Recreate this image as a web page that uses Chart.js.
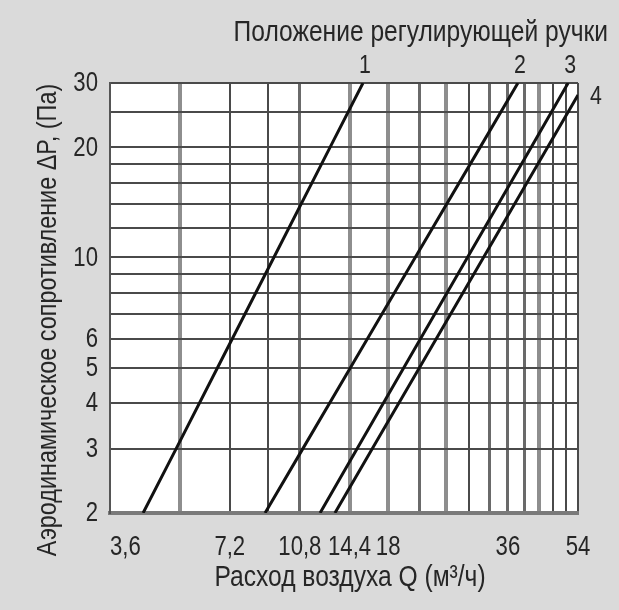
<!DOCTYPE html>
<html><head><meta charset="utf-8">
<script src="https://cdn.jsdelivr.net/npm/chart.js@4.4.1/dist/chart.umd.min.js"></script>
<style>
html,body{margin:0;padding:0;background:#dadada;}
#wrap{position:relative;width:619px;height:610px;}
</style></head><body>
<div id="wrap"><canvas id="c"></canvas></div>
<script>
// ---- data ----
const pressureLevels = [2, 3, 5, 10, 20, 30];            // ΔP, Па
const flowPos1 = [4.36, 5.28, 6.71, 9.29, 12.86, 15.56];  // Q, м³/ч
const flowPos2 = [8.83, 10.99, 14.48, 21.05, 30.64, 38.14];
const flowPos3 = [12.14, 15.05, 19.72, 28.48, 41.16, 51.0];
const flowPos4 = [13.23, 16.43, 21.59, 31.25, 45.25, 54];
const pressurePos4 = [2, 3, 5, 10, 20, 27.8];
const seriesLabels = ['1', '2', '3', '4'];
const xGridValues = [3.6, 5.4, 7.2, 9, 10.8, 14.4, 18, 21.6, 25.2, 28.8, 32.4, 36, 39.6, 43.2, 46.8, 50.4, 54];
const xTickLabels = [3.6, 7.2, 10.8, 14.4, 18, 36, 54];
const yGridValues = [2, 3, 4, 5, 6, 7, 8, 9, 10, 12, 14, 16, 18, 20, 25, 30];
const yTickLabels = [2, 3, 4, 5, 6, 10, 20, 30];
const chartTitle = 'Положение регулирующей ручки';
const xTitle = 'Расход воздуха Q (м³/ч)';
const yTitle = 'Аэродинамическое сопротивление ΔP, (Па)';

// ---- styling ----
const FONT = "'Liberation Sans', Arial, sans-serif";
const NARROW = 0.82;   // condensed face emulation
const TEXT = '#262626';
function xGridStyle(v) {
  const light = [5.4, 14.4, 18, 25.2, 43.2];
  const mid = [10.8, 21.6, 32.4, 36, 39.6];
  if (light.some(t => Math.abs(t - v) < 1e-6)) return ['#8e8e8e', 4];
  if (mid.some(t => Math.abs(t - v) < 1e-6)) return ['#6a6a6a', 3];
  return ['#4a4a4a', 2];
}
const fmtNum = v => String(v).replace('.', ',');
const toPts = (xs, ys) => xs.map((x, i) => ({x: x, y: ys[i]}));

function narrowText(ctx, text, x, y, size, align, rot) {
  ctx.save();
  ctx.translate(x, y);
  if (rot) ctx.rotate(rot);
  ctx.scale(NARROW, 1);
  ctx.font = size + 'px ' + FONT;
  ctx.textAlign = align;
  ctx.textBaseline = 'middle';
  ctx.fillStyle = TEXT;
  ctx.fillText(text, 0, 0);
  ctx.restore();
}

const datasets = [
  toPts(flowPos1, pressureLevels),
  toPts(flowPos2, pressureLevels),
  toPts(flowPos3, pressureLevels),
  toPts(flowPos4, pressurePos4)
].map((d, i) => ({
  label: seriesLabels[i], data: d, showLine: true, borderColor: '#111', borderWidth: 3,
  pointRadius: 0, fill: false, tension: 0
}));

const bgPlugin = {
  id: 'bg',
  beforeDraw(chart) {
    const {ctx, chartArea: a} = chart;
    ctx.save();
    ctx.fillStyle = '#dadada';
    ctx.fillRect(0, 0, chart.width, chart.height);
    ctx.fillStyle = '#ffffff';
    ctx.fillRect(a.left, a.top, a.right - a.left, a.bottom - a.top);
    ctx.restore();
  }
};

const textPlugin = {
  id: 'texts',
  afterDraw(chart) {
    const {ctx, chartArea: a} = chart;
    const sx = chart.scales.x, sy = chart.scales.y;
    // heading
    narrowText(ctx, chartTitle, chart.width - 11, 33, 30, 'right');
    // tick labels
    xTickLabels.forEach((v, i) => {
      const px = sx.getPixelForValue(v);
      narrowText(ctx, fmtNum(v), px, a.bottom + 35, 27, i === 0 ? 'left' : 'center');
    });
    yTickLabels.forEach(v => {
      narrowText(ctx, fmtNum(v), a.left - 12, sy.getPixelForValue(v) + 1, 27, 'right');
    });
    // axis titles
    narrowText(ctx, xTitle, (a.left + a.right) / 2 + 6, a.bottom + 65, 30, 'center');
    narrowText(ctx, yTitle, a.left - 62, (a.top + a.bottom) / 2 + 22, 28.5, 'center', -Math.PI / 2);
    // curve numbers
    chart.data.datasets.forEach((ds, i) => {
      const meta = chart.getDatasetMeta(i);
      const p = meta.data[meta.data.length - 1];
      if (p.y <= a.top + 1) narrowText(ctx, ds.label, p.x + 2, a.top - 17, 26, 'center');
      else narrowText(ctx, ds.label, p.x + 18, p.y + 2, 26, 'center');
    });
  }
};

new Chart(document.getElementById('c'), {
  type: 'scatter',
  data: {datasets},
  options: {
    responsive: true, maintainAspectRatio: false, animation: false, devicePixelRatio: 1,
    layout: {padding: {left: 0, right: 41, top: 83, bottom: 0}},
    plugins: {legend: {display: false}, tooltip: {enabled: false}, title: {display: false}},
    scales: {
      x: {
        type: 'logarithmic', min: 3.6, max: 54, position: 'bottom',
        afterBuildTicks: s => { s.ticks = xGridValues.map(v => ({value: v})); },
        afterFit: s => { s.height = 97; },
        ticks: {display: false, autoSkip: false},
        grid: {drawTicks: false,
          color: c => xGridStyle(c.tick ? c.tick.value : 0)[0],
          lineWidth: c => xGridStyle(c.tick ? c.tick.value : 0)[1]},
        border: {display: true, color: '#7a7a7a', width: 4},
        title: {display: false, text: xTitle}
      },
      y: {
        type: 'logarithmic', min: 2, max: 30, position: 'left',
        afterBuildTicks: s => { s.ticks = yGridValues.map(v => ({value: v})); },
        afterFit: s => { s.width = 110; },
        ticks: {display: false, autoSkip: false},
        grid: {drawTicks: false, color: '#4a4a4a', lineWidth: 2},
        border: {display: true, color: '#555', width: 2},
        title: {display: false, text: yTitle}
      }
    }
  },
  plugins: [bgPlugin, textPlugin]
});
</script>
</body></html>
